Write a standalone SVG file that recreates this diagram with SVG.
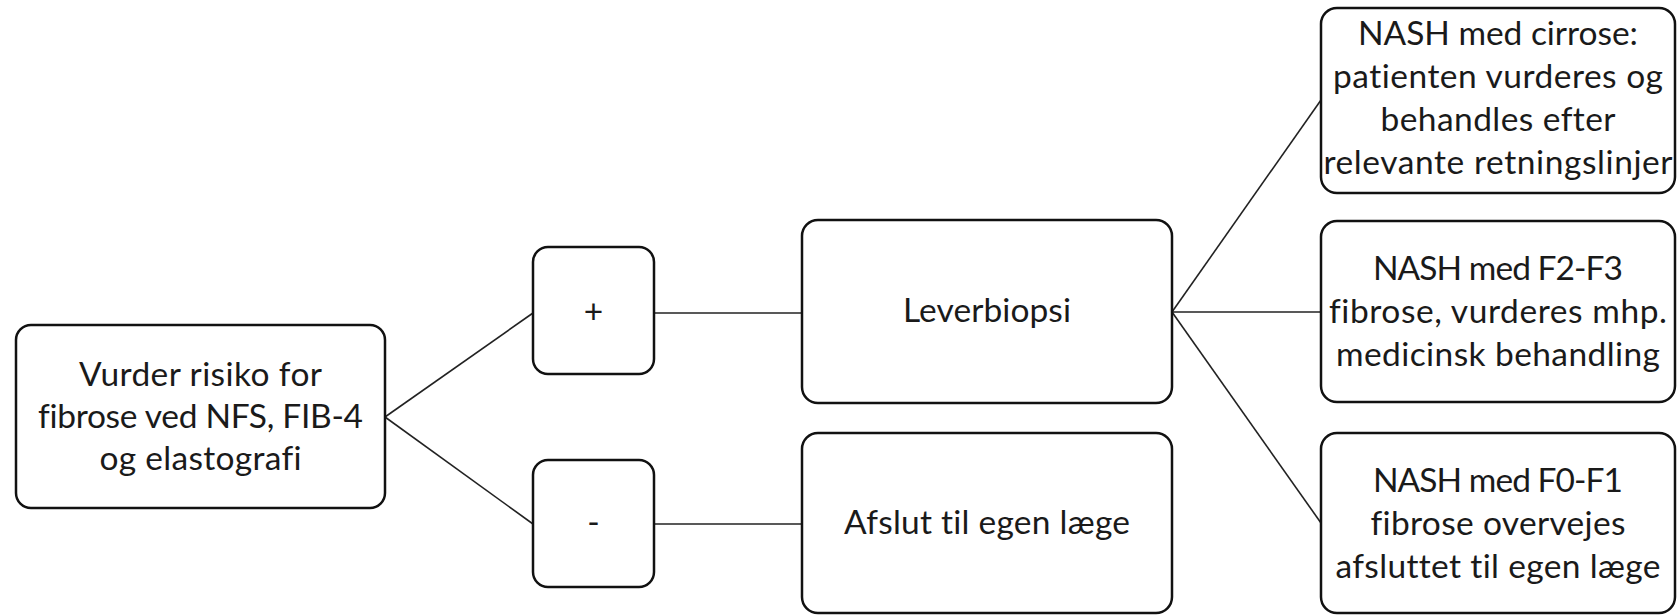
<svg xmlns="http://www.w3.org/2000/svg" width="1677" height="615" viewBox="0 0 1677 615">
<style>
.box{fill:#ffffff;stroke:#111111;stroke-width:2.5}
.t{font-family:Lato,"Open Sans","Liberation Sans",sans-serif;font-size:33.5px;fill:#1a1a1a;text-anchor:middle;font-variant-ligatures:none;font-feature-settings:"liga" 0,"clig" 0}
.c{stroke:#222222;stroke-width:1.6;fill:none}
</style>
<rect width="1677" height="615" fill="#ffffff"/>
<g id="connectors">
<line class="c" x1="385" y1="417" x2="533" y2="313"/>
<line class="c" x1="385" y1="417" x2="533" y2="524"/>
<line class="c" x1="654" y1="313" x2="802" y2="313"/>
<line class="c" x1="654" y1="524" x2="802" y2="524"/>
<line class="c" x1="1172" y1="312" x2="1321" y2="100"/>
<line class="c" x1="1172" y1="312" x2="1321" y2="312"/>
<line class="c" x1="1172" y1="312" x2="1321" y2="523"/>
</g>
<g id="n-start">
<rect class="box" x="16" y="325" width="369" height="183" rx="15"/>
<text class="t" x="200.5" y="386" textLength="243" lengthAdjust="spacing">Vurder risiko for</text>
<text class="t" x="200.5" y="428" textLength="325" lengthAdjust="spacing">fibrose ved NFS, FIB-4</text>
<text class="t" x="200.5" y="470" textLength="202" lengthAdjust="spacing">og elastografi</text>
</g>
<g id="n-plus">
<rect class="box" x="533" y="247" width="121" height="127" rx="15"/>
<text class="t" x="593.5" y="323">+</text>
</g>
<g id="n-minus">
<rect class="box" x="533" y="460" width="121" height="127" rx="15"/>
<text class="t" x="593.5" y="534">-</text>
</g>
<g id="n-biopsi">
<rect class="box" x="802" y="220" width="370" height="183" rx="16"/>
<text class="t" x="987" y="322" textLength="168" lengthAdjust="spacing">Leverbiopsi</text>
</g>
<g id="n-afslut">
<rect class="box" x="802" y="433" width="370" height="180" rx="16"/>
<text class="t" x="987" y="534" textLength="286" lengthAdjust="spacing">Afslut til egen læge</text>
</g>
<g id="n-cirrose">
<rect class="box" x="1321" y="8" width="354" height="185" rx="16"/>
<text class="t" x="1498" y="45" textLength="280" lengthAdjust="spacing">NASH med cirrose:</text>
<text class="t" x="1498" y="88" textLength="330" lengthAdjust="spacing">patienten vurderes og</text>
<text class="t" x="1498" y="131" textLength="235" lengthAdjust="spacing">behandles efter</text>
<text class="t" x="1498" y="174" textLength="349" lengthAdjust="spacing">relevante retningslinjer</text>
</g>
<g id="n-f2f3">
<rect class="box" x="1321" y="221" width="354" height="181" rx="16"/>
<text class="t" x="1498" y="280" textLength="250" lengthAdjust="spacing">NASH med F2-F3</text>
<text class="t" x="1498" y="323" textLength="338" lengthAdjust="spacing">fibrose, vurderes mhp.</text>
<text class="t" x="1498" y="366" textLength="324" lengthAdjust="spacing">medicinsk behandling</text>
</g>
<g id="n-f0f1">
<rect class="box" x="1321" y="433" width="354" height="180" rx="16"/>
<text class="t" x="1498" y="492" textLength="250" lengthAdjust="spacing">NASH med F0-F1</text>
<text class="t" x="1498" y="535" textLength="255" lengthAdjust="spacing">fibrose overvejes</text>
<text class="t" x="1498" y="578" textLength="325" lengthAdjust="spacing">afsluttet til egen læge</text>
</g>
</svg>
